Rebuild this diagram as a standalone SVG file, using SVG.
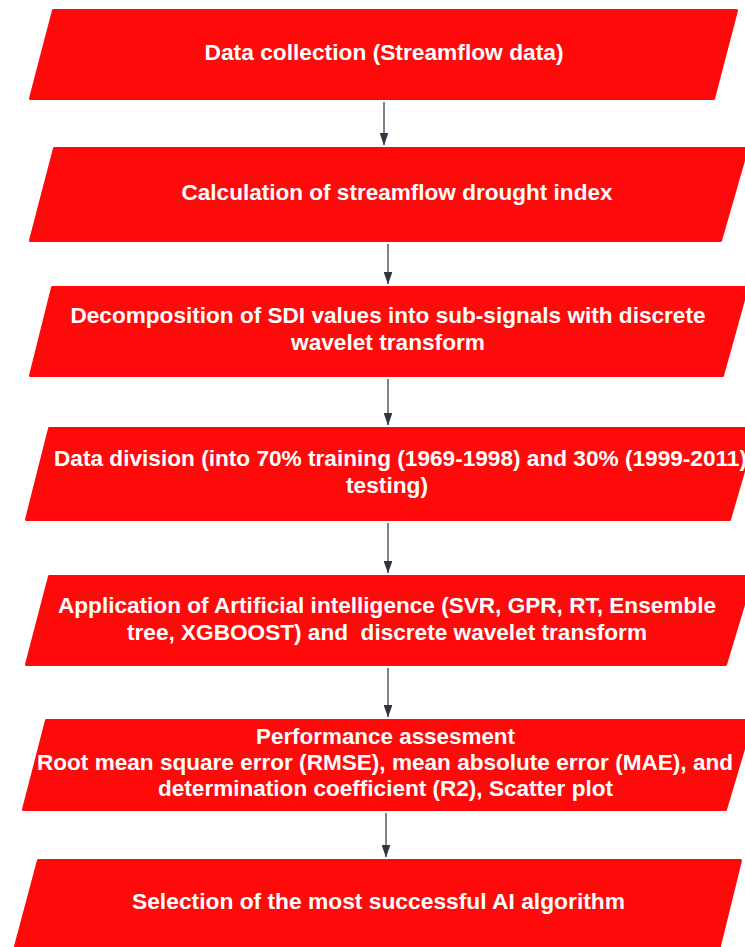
<svg xmlns="http://www.w3.org/2000/svg" width="745" height="947" viewBox="0 0 745 947">
<defs>
<style>
.box{fill:#fe0a0a;stroke:#fe0a0a;stroke-width:3;stroke-linejoin:round}
.t{font-family:"Liberation Sans",Arial,sans-serif;font-weight:bold;font-size:22.5px;fill:#ffffff;text-anchor:middle}
.c{stroke:#3a424c;stroke-width:1.3;fill:none;marker-end:url(#ah)}
</style>
<marker id="ah" markerWidth="13" markerHeight="9" refX="12.5" refY="4.5" orient="auto" markerUnits="userSpaceOnUse" viewBox="0 0 13 9" preserveAspectRatio="none">
<path d="M0,0 L13,4.5 L0,9 Z" fill="#2e3640"/>
</marker>
</defs>
<rect width="745" height="947" fill="#ffffff"/>
<g id="connectors">
<line class="c" x1="384" y1="102" x2="384" y2="145"/>
<line class="c" x1="388" y1="244" x2="388" y2="284"/>
<line class="c" x1="388" y1="379" x2="388" y2="425"/>
<line class="c" x1="388" y1="523" x2="388" y2="573"/>
<line class="c" x1="388" y1="668" x2="388" y2="717"/>
<line class="c" x1="386" y1="813" x2="386" y2="857"/>
</g>
<g id="n1">
<polygon class="box" points="53.5,10.5 736.5,10.5 713.5,98.5 30.5,98.5"/>
<text class="t" x="384" y="60" textLength="359" lengthAdjust="spacingAndGlyphs">Data collection (Streamflow data)</text>
</g>
<g id="n2">
<polygon class="box" points="54.5,148.5 747,148.5 720.5,240.5 30.5,240.5"/>
<text class="t" x="397" y="200" textLength="431" lengthAdjust="spacingAndGlyphs">Calculation of streamflow drought index</text>
</g>
<g id="n3">
<polygon class="box" points="52.5,287.5 747,287.5 722.5,375.5 30.5,375.5"/>
<text class="t" x="388" y="323" textLength="635" lengthAdjust="spacingAndGlyphs">Decomposition of SDI values into sub-signals with discrete</text>
<text class="t" x="388" y="350" textLength="194" lengthAdjust="spacingAndGlyphs">wavelet transform</text>
</g>
<g id="n4">
<polygon class="box" points="49.5,428.5 756,428.5 729.5,519.5 26.5,519.5"/>
<text class="t" x="54" y="466" style="text-anchor:start" textLength="693" lengthAdjust="spacingAndGlyphs">Data division (into 70% training (1969-1998) and 30% (1999-2011)</text>
<text class="t" x="387" y="493" textLength="82" lengthAdjust="spacingAndGlyphs">testing)</text>
</g>
<g id="n5">
<polygon class="box" points="49.5,576.5 752,576.5 725.5,664.5 26.5,664.5"/>
<text class="t" x="387" y="613" textLength="658" lengthAdjust="spacingAndGlyphs">Application of Artificial intelligence (SVR, GPR, RT, Ensemble</text>
<text class="t" x="387" y="640" xml:space="preserve" textLength="520" lengthAdjust="spacingAndGlyphs">tree, XGBOOST) and  discrete wavelet transform</text>
</g>
<g id="n6">
<polygon class="box" points="46.5,720.5 752,720.5 725.5,809.5 23.5,809.5"/>
<text class="t" x="385.5" y="744" textLength="259" lengthAdjust="spacingAndGlyphs">Performance assesment</text>
<text class="t" x="385" y="770" textLength="696" lengthAdjust="spacingAndGlyphs">Root mean square error (RMSE), mean absolute error (MAE), and</text>
<text class="t" x="385.5" y="796" textLength="455" lengthAdjust="spacingAndGlyphs">determination coefficient (R2), Scatter plot</text>
</g>
<g id="n7">
<polygon class="box" points="38.5,860.5 740.5,860.5 718,952 14,952"/>
<text class="t" x="378.5" y="909" textLength="493" lengthAdjust="spacingAndGlyphs">Selection of the most successful AI algorithm</text>
</g>
</svg>
